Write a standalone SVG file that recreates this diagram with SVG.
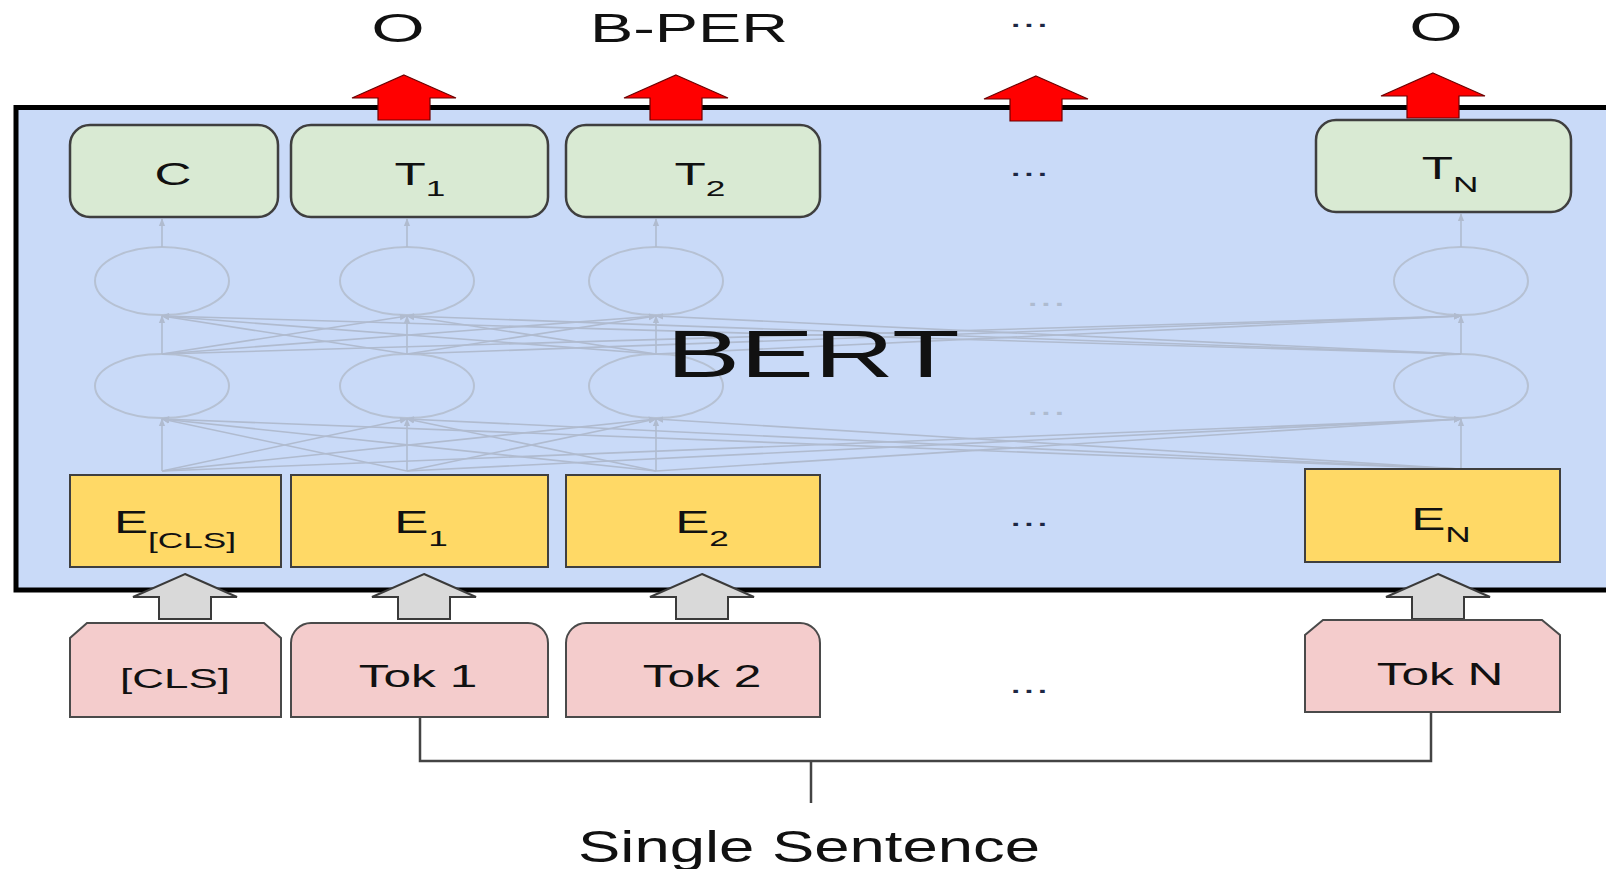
<svg xmlns="http://www.w3.org/2000/svg" width="1606" height="869" viewBox="0 0 1606 869">
<style>
text{font-family:"Liberation Sans",Arial,sans-serif;fill:#111;text-anchor:middle}
.lbl{font-size:32px}
.sub{font-size:22px}
.green{fill:#d9ead3;stroke:#3f3f3f;stroke-width:2.5}
.yellow{fill:#ffd966;stroke:#3f3f3f;stroke-width:2}
.pink{fill:#f4cccc;stroke:#4a4a4a;stroke-width:2}
.net{stroke:#b0bbcf;stroke-width:1.6;fill:none}
.cell{fill:none;stroke:#b6c1d3;stroke-width:2}
.red{fill:#ff0000;stroke:#6b0000;stroke-width:1.2}
.gray{fill:#d9d9d9;stroke:#3a3a3a;stroke-width:2}
.bracket{stroke:#444;stroke-width:2.5;fill:none}
.dots{font-size:30px;fill:#1d2744}
.fdots{font-size:30px;fill:#aebbd0}
</style>
<defs>
<path id="up" d="M0 0 L52 23 L26 23 L26 45 L-26 45 L-26 23 L-52 23 Z"/>
<marker id="ah" viewBox="0 0 10 10" refX="9" refY="5" markerWidth="5" markerHeight="5" orient="auto">
<path d="M0 1 L10 5 L0 9 Z" fill="#b0bbcf"/>
</marker>
</defs>
<rect width="1606" height="869" fill="#fff"/>

<g id="bert">
<rect x="16" y="107.5" width="1620" height="482.5" fill="#c9daf8" stroke="#000" stroke-width="5"/>
</g>

<g id="network">
<ellipse class="cell" cx="162" cy="281" rx="67" ry="34"/>
<ellipse class="cell" cx="407" cy="281" rx="67" ry="34"/>
<ellipse class="cell" cx="656" cy="281" rx="67" ry="34"/>
<ellipse class="cell" cx="1461" cy="281" rx="67" ry="34"/>
<ellipse class="cell" cx="162" cy="386" rx="67" ry="32"/>
<ellipse class="cell" cx="407" cy="386" rx="67" ry="32"/>
<ellipse class="cell" cx="656" cy="386" rx="67" ry="32"/>
<ellipse class="cell" cx="1461" cy="386" rx="67" ry="32"/>
<text class="fdots" transform="translate(1046,306) scale(1.6,1)">...</text>
<text class="fdots" transform="translate(1046,415) scale(1.6,1)">...</text>
</g>

<g id="connectors">
<g class="net" marker-end="url(#ah)">
<line x1="162" y1="247" x2="162" y2="219"/>
<line x1="407" y1="247" x2="407" y2="219"/>
<line x1="656" y1="247" x2="656" y2="219"/>
<line x1="1461" y1="247" x2="1461" y2="214"/>

<line x1="162" y1="354" x2="162" y2="316"/>
<line x1="407" y1="354" x2="407" y2="316"/>
<line x1="656" y1="354" x2="656" y2="316"/>
<line x1="1461" y1="354" x2="1461" y2="316"/>
<line x1="162" y1="354" x2="407" y2="316"/>
<line x1="162" y1="354" x2="656" y2="316"/>
<line x1="162" y1="354" x2="1461" y2="316"/>
<line x1="407" y1="354" x2="162" y2="316"/>
<line x1="407" y1="354" x2="656" y2="316"/>
<line x1="407" y1="354" x2="1461" y2="316"/>
<line x1="656" y1="354" x2="162" y2="316"/>
<line x1="656" y1="354" x2="407" y2="316"/>
<line x1="656" y1="354" x2="1461" y2="316"/>
<line x1="1461" y1="354" x2="162" y2="316"/>
<line x1="1461" y1="354" x2="407" y2="316"/>
<line x1="1461" y1="354" x2="656" y2="316"/>

<line x1="162" y1="471" x2="162" y2="419"/>
<line x1="407" y1="471" x2="407" y2="419"/>
<line x1="656" y1="471" x2="656" y2="419"/>
<line x1="1461" y1="469" x2="1461" y2="419"/>
<line x1="162" y1="471" x2="407" y2="419"/>
<line x1="162" y1="471" x2="656" y2="419"/>
<line x1="162" y1="471" x2="1461" y2="419"/>
<line x1="407" y1="471" x2="162" y2="419"/>
<line x1="407" y1="471" x2="656" y2="419"/>
<line x1="407" y1="471" x2="1461" y2="419"/>
<line x1="656" y1="471" x2="162" y2="419"/>
<line x1="656" y1="471" x2="407" y2="419"/>
<line x1="656" y1="471" x2="1461" y2="419"/>
<line x1="1461" y1="469" x2="162" y2="419"/>
<line x1="1461" y1="469" x2="407" y2="419"/>
<line x1="1461" y1="469" x2="656" y2="419"/>
</g>

<use href="#up" class="red" transform="translate(404,75)"/>
<use href="#up" class="red" transform="translate(676,75)"/>
<use href="#up" class="red" transform="translate(1036,76)"/>
<use href="#up" class="red" transform="translate(1433,73)"/>

<use href="#up" class="gray" transform="translate(185,574)"/>
<use href="#up" class="gray" transform="translate(424,574)"/>
<use href="#up" class="gray" transform="translate(702,574)"/>
<use href="#up" class="gray" transform="translate(1438,574)"/>

<path class="bracket" d="M420 717 V761 H1431 V712 M811 761 V803"/>
</g>

<g id="bert-label">
<text transform="translate(813,377) scale(1.68,1)" font-size="66">BERT</text>
</g>

<g id="out-labels">
<text transform="translate(398,42) scale(1.72,1)" font-size="40">O</text>
<text transform="translate(689,42) scale(1.62,1)" font-size="40">B-PER</text>
<text class="dots" transform="translate(1029,27) scale(1.6,1)">...</text>
<text transform="translate(1436,41) scale(1.72,1)" font-size="40">O</text>
</g>

<g id="node-C"><rect class="green" x="70" y="125" width="208" height="92" rx="20"/>
<text class="lbl" transform="translate(173,185) scale(1.6,1)">C</text></g>
<g id="node-T1"><rect class="green" x="291" y="125" width="257" height="92" rx="20"/>
<text class="lbl" transform="translate(420,185) scale(1.6,1)">T<tspan class="sub" dy="11">1</tspan></text></g>
<g id="node-T2"><rect class="green" x="566" y="125" width="254" height="92" rx="20"/>
<text class="lbl" transform="translate(700,185) scale(1.6,1)">T<tspan class="sub" dy="11">2</tspan></text></g>
<g id="node-Tdots"><text class="dots" transform="translate(1029,176) scale(1.6,1)">...</text></g>
<g id="node-TN"><rect class="green" x="1316" y="120" width="255" height="92" rx="20"/>
<text class="lbl" transform="translate(1450,179) scale(1.6,1)">T<tspan class="sub" dy="13">N</tspan></text></g>

<g id="node-ECLS"><rect class="yellow" x="70" y="475" width="211" height="92"/>
<text class="lbl" transform="translate(175,533) scale(1.6,1)">E<tspan class="sub" dy="15">[CLS]</tspan></text></g>
<g id="node-E1"><rect class="yellow" x="291" y="475" width="257" height="92"/>
<text class="lbl" transform="translate(421,533) scale(1.6,1)">E<tspan class="sub" dy="13">1</tspan></text></g>
<g id="node-E2"><rect class="yellow" x="566" y="475" width="254" height="92"/>
<text class="lbl" transform="translate(702,533) scale(1.6,1)">E<tspan class="sub" dy="13">2</tspan></text></g>
<g id="node-Edots"><text class="dots" transform="translate(1029,526) scale(1.6,1)">...</text></g>
<g id="node-EN"><rect class="yellow" x="1305" y="469" width="255" height="93"/>
<text class="lbl" transform="translate(1441,530) scale(1.6,1)">E<tspan class="sub" dy="12">N</tspan></text></g>

<g id="node-CLS"><path class="pink" d="M70 717 V638 L87 623 H264 L281 638 V717 Z"/>
<text transform="translate(175,688) scale(1.57,1)" font-size="28">[CLS]</text></g>
<g id="node-Tok1"><path class="pink" d="M291 717 V643 A20 20 0 0 1 311 623 H528 A20 20 0 0 1 548 643 V717 Z"/>
<text class="lbl" transform="translate(418,687) scale(1.55,1)" font-size="33">Tok 1</text></g>
<g id="node-Tok2"><path class="pink" d="M566 717 V643 A20 20 0 0 1 586 623 H800 A20 20 0 0 1 820 643 V717 Z"/>
<text class="lbl" transform="translate(702,687) scale(1.55,1)" font-size="33">Tok 2</text></g>
<g id="node-Tokdots"><text class="dots" transform="translate(1029,693) scale(1.6,1)">...</text></g>
<g id="node-TokN"><path class="pink" d="M1305 712 V635 L1323 620 H1542 L1560 635 V712 Z"/>
<text class="lbl" transform="translate(1440,685) scale(1.55,1)" font-size="33">Tok N</text></g>

<g id="sentence">
<text transform="translate(809,862) scale(1.41,1)" font-size="45">Single Sentence</text>
</g>
</svg>
